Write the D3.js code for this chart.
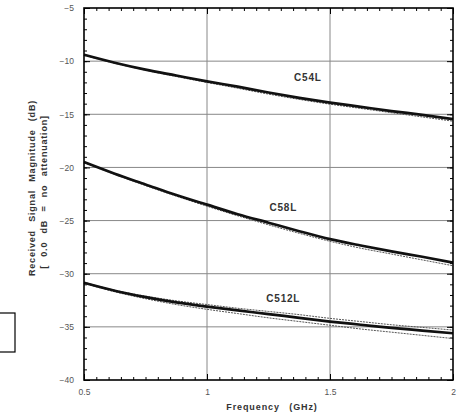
<!DOCTYPE html>
<html lang="en">
<head>
<meta charset="utf-8">
<script src="https://d3js.org/d3.v7.min.js"></script>
<style>
    body { margin: 0; background: #fff; }
    text { font-family: "Liberation Sans", Arial, sans-serif; }
</style>
</head>
<body>
<svg id="chart"></svg>
<script>
    // frequencies (GHz)
    var freq = [0.5, 0.625, 0.75, 0.875, 1.0, 1.125, 1.25, 1.375, 1.5, 1.625, 1.75, 1.875, 2.0];

    // received magnitude (dB), main trace + spread traces per cable
    var c54L = [-9.4, -10.15, -10.8, -11.35, -11.9, -12.4, -12.95, -13.45, -13.9, -14.3, -14.7, -15.05, -15.45];
    var c54L_b = [-9.45, -10.2, -10.85, -11.45, -12.0, -12.55, -13.1, -13.6, -14.05, -14.45, -14.85, -15.25, -15.65];
    var c58L = [-19.5, -20.6, -21.6, -22.6, -23.5, -24.4, -25.2, -26.0, -26.75, -27.35, -27.9, -28.4, -28.95];
    var c58L_b = [-19.55, -20.65, -21.7, -22.7, -23.65, -24.55, -25.4, -26.2, -26.95, -27.6, -28.15, -28.7, -29.25];
    var c512L = [-30.85, -31.6, -32.2, -32.7, -33.1, -33.45, -33.8, -34.15, -34.5, -34.8, -35.1, -35.35, -35.6];
    var c512L_b = [-30.9, -31.7, -32.35, -32.9, -33.35, -33.75, -34.15, -34.5, -34.85, -35.2, -35.5, -35.8, -36.1];
    var c512L_c = [-30.8, -31.55, -32.1, -32.55, -32.9, -33.25, -33.55, -33.85, -34.2, -34.5, -34.8, -35.05, -35.3];

    var labels = [
        { name: "C54L", f: 1.41, v: -11.9 },
        { name: "C58L", f: 1.31, v: -24.1 },
        { name: "C512L", f: 1.31, v: -32.7 }
    ];

    var xTicks = [0.5, 1, 1.5, 2];
    var xTickText = ["0.5", "1", "1.5", "2"];
    var yTicks = [-5, -10, -15, -20, -25, -30, -35, -40];

    var width = 466, height = 417;
    var margin = { left: 84, top: 8, right: 13, bottom: 37 };
    var w = width - margin.left - margin.right;
    var h = height - margin.top - margin.bottom;

    var svg = d3.select("#chart").attr("width", width).attr("height", height);
    var g = svg.append("g").attr("transform", "translate(" + margin.left + "," + margin.top + ")");

    var x = d3.scaleLinear().domain([0.5, 2]).range([0, w]);
    var y = d3.scaleLinear().domain([-40, -5]).range([h, 0]);

    // grid
    g.selectAll(".vgrid").data([1, 1.5]).enter().append("line")
        .attr("x1", d => x(d)).attr("x2", d => x(d))
        .attr("y1", 0).attr("y2", h)
        .attr("stroke", "#888").attr("stroke-width", 1);
    g.selectAll(".hgrid").data([-10, -15, -20, -25, -30, -35]).enter().append("line")
        .attr("x1", 0).attr("x2", w)
        .attr("y1", d => y(d)).attr("y2", d => y(d))
        .attr("stroke", "#888").attr("stroke-width", 1);

    // ticks on all four sides, pointing inward
    var xMinor = d3.range(0.5, 2.0001, 0.05);
    var yMinor = d3.range(-40, -4.999, 1);
    function tickAxis(axis, tr) {
        g.append("g").attr("transform", tr).call(axis)
            .call(s => s.select(".domain").remove())
            .call(s => s.selectAll("text").remove())
            .call(s => s.selectAll("line").attr("stroke", "#000"));
    }
    tickAxis(d3.axisBottom(x).tickValues(xMinor).tickSize(-3), "translate(0," + h + ")");
    tickAxis(d3.axisTop(x).tickValues(xMinor).tickSize(-3), "translate(0,0)");
    tickAxis(d3.axisBottom(x).tickValues(xTicks).tickSize(-6), "translate(0," + h + ")");
    tickAxis(d3.axisTop(x).tickValues(xTicks).tickSize(-6), "translate(0,0)");
    tickAxis(d3.axisLeft(y).tickValues(yMinor).tickSize(-3), "translate(0,0)");
    tickAxis(d3.axisRight(y).tickValues(yMinor).tickSize(-3), "translate(" + w + ",0)");
    tickAxis(d3.axisLeft(y).tickValues(yTicks).tickSize(-6), "translate(0,0)");
    tickAxis(d3.axisRight(y).tickValues(yTicks).tickSize(-6), "translate(" + w + ",0)");

    // tick labels
    var xa = g.append("g").attr("transform", "translate(0," + h + ")")
        .call(d3.axisBottom(x).tickValues(xTicks).tickSize(0).tickPadding(9)
            .tickFormat((d, i) => xTickText[i]));
    xa.select(".domain").remove();
    xa.selectAll("text").attr("font-size", 8.5).attr("fill", "#555")
        .attr("font-family", "Liberation Sans, Arial, sans-serif");

    var ya = g.append("g")
        .call(d3.axisLeft(y).tickValues(yTicks).tickSize(0).tickPadding(10).tickFormat(d3.format("d")));
    ya.select(".domain").remove();
    ya.selectAll("text").attr("font-size", 8.5).attr("fill", "#555")
        .attr("font-family", "Liberation Sans, Arial, sans-serif");

    // curves
    var line = d3.line().x((d, i) => x(freq[i])).y(d => y(d)).curve(d3.curveMonotoneX);
    var thin = [c54L_b, c58L_b, c512L_b, c512L_c];
    g.selectAll(".thin").data(thin).enter().append("path")
        .attr("d", d => line(d))
        .attr("fill", "none").attr("stroke", "#555").attr("stroke-width", 1)
        .attr("stroke-dasharray", "2,1");
    g.selectAll(".main").data([c54L, c58L, c512L]).enter().append("path")
        .attr("d", d => line(d))
        .attr("fill", "none").attr("stroke", "#111").attr("stroke-width", 2.7);

    // frame
    g.append("rect").attr("x", 0).attr("y", 0).attr("width", w).attr("height", h)
        .attr("fill", "none").attr("stroke", "#000").attr("stroke-width", 1.6);

    // curve labels
    g.selectAll(".lbl").data(labels).enter().append("text")
        .attr("x", d => x(d.f)).attr("y", d => y(d.v))
        .attr("text-anchor", "middle")
        .attr("font-size", 10).attr("font-weight", "bold").attr("fill", "#333")
        .attr("letter-spacing", 0.8)
        .text(d => d.name);

    // axis titles
    svg.append("text")
        .attr("x", 272).attr("y", 410)
        .attr("text-anchor", "middle")
        .attr("font-size", 9).attr("font-weight", "bold").attr("fill", "#333")
        .attr("letter-spacing", 0.9).attr("word-spacing", 6)
        .text("Frequency (GHz)");

    var yt = svg.append("text")
        .attr("transform", "translate(35,188) rotate(-90)")
        .attr("text-anchor", "middle")
        .attr("font-size", 9).attr("font-weight", "bold").attr("fill", "#333")
        .attr("letter-spacing", 0.8).attr("word-spacing", 5);
    yt.append("tspan").attr("x", 0).attr("dy", 0).text("Received Signal Magnitude (dB)");
    yt.append("tspan").attr("x", -4).attr("dy", 12).text("[ 0.0 dB = no attenuation]");

    // small box at the left edge
    svg.append("rect").attr("x", -1).attr("y", 313).attr("width", 16).attr("height", 39)
        .attr("fill", "#fff").attr("stroke", "#000").attr("stroke-width", 1.2);
</script>
</body>
</html>
